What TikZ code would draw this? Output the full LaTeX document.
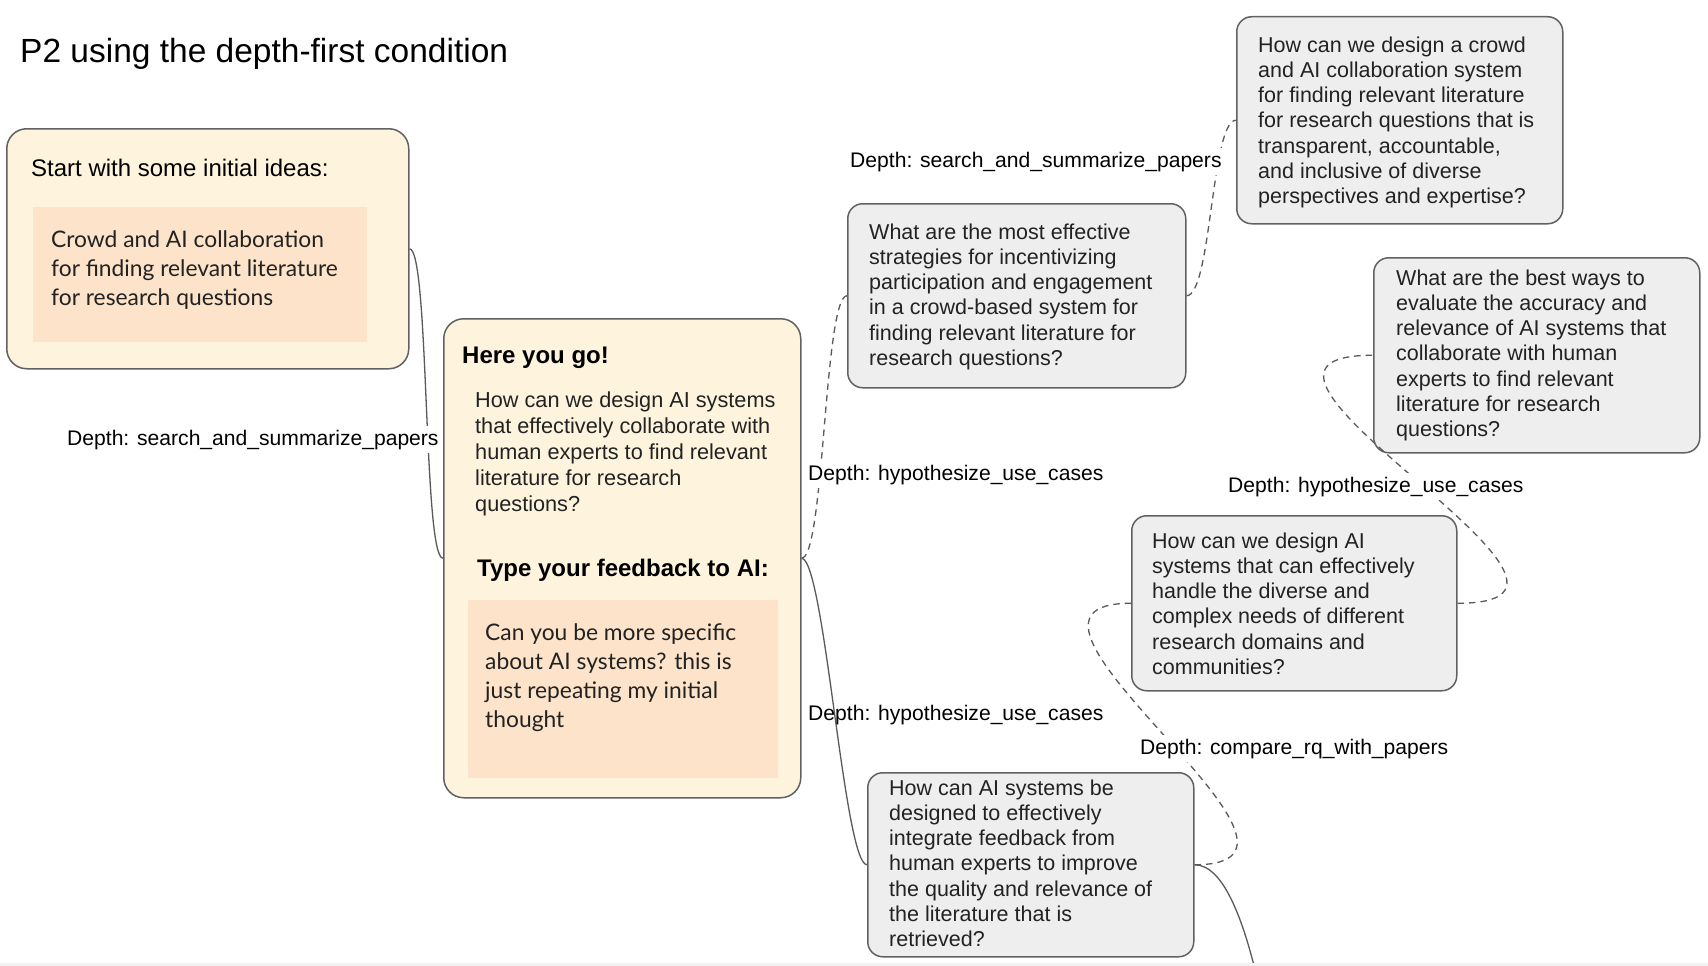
\documentclass[tikz,border=0pt]{standalone}
\usepackage{fontspec}
\setmainfont{Liberation Sans}
\newfontfamily\srcsans{Lato}
\definecolor{cream}{HTML}{FEF4DE}
\definecolor{peach}{HTML}{FCE3C9}
\definecolor{qgray}{HTML}{EEEEEE}
\definecolor{edge}{HTML}{616161}
\definecolor{ink}{HTML}{222222}
\definecolor{linkgray}{HTML}{5A5A5A}
\definecolor{stripgray}{HTML}{F3F3F3}
\newcommand{\srcfnt}{\srcsans\fontsize{22.8}{29}\selectfont}
\newcommand{\qbfnt}{\fontsize{21.7}{26}\selectfont}
\newcommand{\qfnt}{\fontsize{21.5}{25.2}\selectfont}
\newcommand{\fststrut}{\rule{0pt}{20pt}}
\begin{document}
\begin{tikzpicture}[x=1pt,y=-1pt,
  every node/.style={inner sep=0pt},
  creambox/.style={draw=edge,line width=1.5pt,fill=cream,rounded corners=20pt,anchor=north west},
  peachbox/.style={fill=peach,anchor=north west},
  qbox/.style={draw=edge,line width=1.5pt,fill=qgray,rounded corners=15pt,anchor=north west},
  para/.style={anchor=north west,align=left,text=ink},
  headtxt/.style={anchor=base west,text=black},
  depthlbl/.style={anchor=base west,font=\fontsize{21.1}{25}\selectfont,text=black,inner xsep=3pt,inner ysep=4pt},
  bgfill/.style={fill=white},
  link/.style={draw=linkgray,line width=1.3pt},
  dlink/.style={link,dash pattern=on 6.5pt off 5pt}
]
\fill[white] (0,0) rectangle (1708,966);
\useasboundingbox (0,0) rectangle (1708,966);

% title
\node[headtxt,font=\fontsize{33.5}{38}\selectfont] (title) at (20,63) {P2 using the depth-first condition};

% box A : initial ideas
\node[creambox,minimum width=402pt,minimum height=240pt] (A) at (6,128) {};
\node[headtxt,font=\fontsize{24}{28}\selectfont] (Ahead) at (31,176) {Start with some initial ideas:};
\node[peachbox,minimum width=334pt,minimum height=135pt] (Ain) at (33,207) {};
\node[para,font=\srcfnt] (Atext) at (51,227) {\fststrut Crowd and AI collaboration\\for finding relevant literature\\for research questions};

% box B : main
\node[creambox,minimum width=357pt,minimum height=479pt] (B) at (443,318) {};
\node[headtxt,font=\bfseries\fontsize{24}{28}\selectfont] (Bhead) at (462,363) {Here you go!};
\node[para,font=\qbfnt] (Btext) at (475,387) {\fststrut How can we design AI systems\\that effectively collaborate with\\human experts to find relevant\\literature for research\\questions?};
\node[headtxt,font=\bfseries\fontsize{24}{28}\selectfont] (Bfb) at (477,576) {Type your feedback to AI:};
\node[peachbox,minimum width=310pt,minimum height=178pt] (Bin) at (468,600) {};
\node[para,font=\srcfnt] (Bfbtext) at (485,620) {\fststrut Can you be more specific\\about AI systems? this is\\just repeating my initial\\thought};

% question boxes
\node[qbox,minimum width=326pt,minimum height=207pt] (C1) at (1236,16) {};
\node[para,font=\qfnt] (C1t) at (1258,32) {\fststrut How can we design a crowd\\and AI collaboration system\\for finding relevant literature\\for research questions that is\\transparent, accountable,\\and inclusive of diverse\\perspectives and expertise?};

\node[qbox,minimum width=338pt,minimum height=184pt] (C2) at (847,203) {};
\node[para,font=\qfnt] (C2t) at (869,219) {\fststrut What are the most effective\\strategies for incentivizing\\participation and engagement\\in a crowd-based system for\\finding relevant literature for\\research questions?};

\node[qbox,minimum width=326pt,minimum height=184pt] (C3) at (867,772) {};
\node[para,font=\qfnt] (C3t) at (889,775) {\fststrut How can AI systems be\\designed to effectively\\integrate feedback from\\human experts to improve\\the quality and relevance of\\the literature that is\\retrieved?};

\node[qbox,minimum width=325pt,minimum height=175pt] (C4) at (1131,515) {};
\node[para,font=\qfnt] (C4t) at (1152,528) {\fststrut How can we design AI\\systems that can effectively\\handle the diverse and\\complex needs of different\\research domains and\\communities?};

\node[qbox,minimum width=326pt,minimum height=195pt] (C5) at (1373,257) {};
\node[para,font=\qfnt] (C5t) at (1396,265) {\fststrut What are the best ways to\\evaluate the accuracy and\\relevance of AI systems that\\collaborate with human\\experts to find relevant\\literature for research\\questions?};

% connectors
\draw[link] (A.east) .. controls +(20,0) and +(-20,0) .. (B.west);
\draw[dlink] (B.east) .. controls +(23,0) and +(-23,0) .. (C2.west);
\draw[dlink] (C2.east) .. controls +(25,0) and +(-25,0) .. (C1.west);
\draw[link] (B.east) .. controls +(23,0) and +(-23,0) .. (C3.west);
\draw[dlink] (C3.east) .. controls +(170,0) and +(-170,0) .. (C4.west);
\draw[dlink] (C4.east) .. controls +(200,0) and +(-200,0) .. (C5.west);
\coordinate (offb) at (1262,1000);
\begin{scope}
\clip (0,0) rectangle (1708,963);
\draw[link] (C3.east) .. controls +(29,0) and +(-17,-80) .. (offb);
\end{scope}

% depth labels
\node[depthlbl,bgfill] (L1) at (64,445) {Depth: search\_and\_summarize\_papers};
\node[depthlbl,bgfill] (L2) at (847,167) {Depth: search\_and\_summarize\_papers};
\node[depthlbl,bgfill] (L3) at (805,480) {Depth: hypothesize\_use\_cases};
\node[depthlbl] (L4) at (805,720) {Depth: hypothesize\_use\_cases};
\node[depthlbl,bgfill] (L5) at (1225,492) {Depth: hypothesize\_use\_cases};
\node[depthlbl,bgfill] (L6) at (1137,754) {Depth: compare\_rq\_with\_papers};

\fill[stripgray] (0,963) rectangle (1708,966);
\end{tikzpicture}
\end{document}
